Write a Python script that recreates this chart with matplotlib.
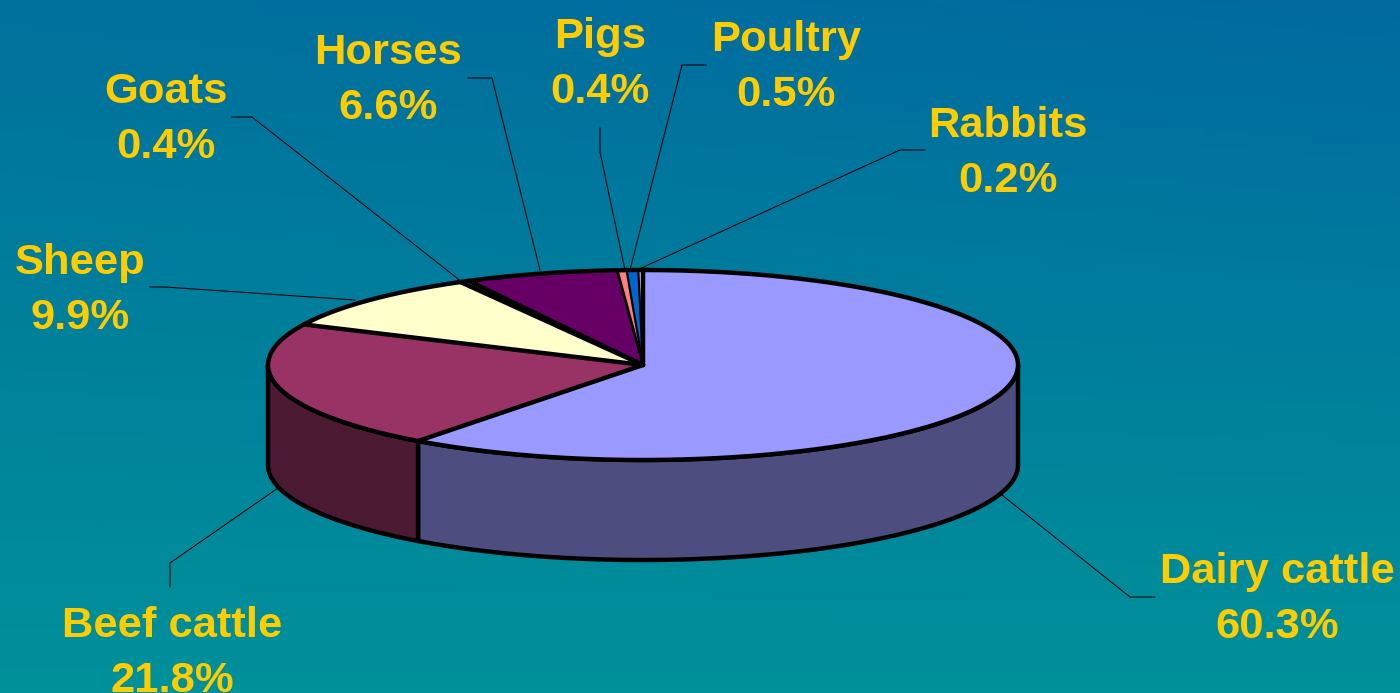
import numpy as np
import matplotlib
matplotlib.use('Agg')
import matplotlib.pyplot as plt
from matplotlib.patches import Polygon

labels = ["Dairy cattle", "Beef cattle", "Sheep", "Goats", "Horses", "Pigs", "Poultry", "Rabbits"]
values = [60.3, 21.8, 9.9, 0.4, 6.6, 0.4, 0.5, 0.2]

top_colors = ["#9999ff", "#993366", "#ffffcc", "#ccffff", "#660066", "#ff8080", "#0066cc", "#ccccff"]
side_colors = ["#4d4d80", "#4d1a33", "#808066", "#668080", "#330033", "#804040", "#003366", "#666680"]

# where the text sits (centre x, centre y of first line) and the leader line
label_pos = [(1277, 572), (172, 626), (80, 263), (166, 92), (388, 53), (600, 37), (786, 40), (1008, 126)]
leaders = [
    [(1002, 495), (1130, 597), (1155, 597)],
    [(278, 488), (170, 563), (170, 587)],
    [(355, 300), (165, 287), (150, 287)],
    [(462, 282), (252, 117), (232, 117)],
    [(540, 270), (492, 78), (468, 78)],
    [(625, 270), (600, 152), (600, 128)],
    [(630, 270), (682, 65), (706, 65)],
    [(637, 270), (900, 150), (925, 150)],
]
# the radial line that ends each slice, thin ones on the small slices so the colour shows
radial_lw = [3.2, 3.2, 3.2, 3.2, 2.0, 1.6, 1.6, 3.2]

cx, cy, rx, ry, depth = 643, 365, 375, 95, 100
gold = "#ffcc00"
lw = 3.2

fig = plt.figure(figsize=(14, 6.93), dpi=100)
ax = fig.add_axes([0, 0, 1, 1])
ax.set_xlim(0, 1400)
ax.set_ylim(693, 0)
ax.axis('off')

# background gradient, a little bluer in the top right corner
top_left = np.array([0, 113, 157]) / 255
top_right = np.array([0, 106, 160]) / 255
bottom = np.array([0, 145, 154]) / 255
ys, xs = np.mgrid[0:1:200j, 0:1:200j]
bg = np.zeros((200, 200, 3))
for c in range(3):
    bg[:, :, c] = (1 - ys) * (top_left[c] * (1 - xs) + top_right[c] * xs) + ys * bottom[c]
ax.imshow(bg, extent=(0, 1400, 693, 0), aspect='auto', zorder=0)


def ell(t, dy=0):
    t = np.radians(t)
    return np.column_stack([cx + rx * np.sin(t), cy - ry * np.cos(t) + dy])


total = sum(values)
edges = np.concatenate([[0], np.cumsum(values)]) / total * 360

# sides first, only the front half can be seen
for i in range(len(values)):
    a, b = max(edges[i], 90), min(edges[i + 1], 270)
    if b <= a:
        continue
    t = np.linspace(a, b, 200)
    pts = np.vstack([ell(t), ell(t[::-1], depth)])
    ax.add_patch(Polygon(pts, closed=True, fc=side_colors[i], ec='black', lw=lw, joinstyle='round', zorder=2))

# top face: fills, then radial lines, then the rim over them
for i in range(len(values)):
    t = np.linspace(edges[i], edges[i + 1], 200)
    pts = np.vstack([[cx, cy], ell(t)])
    ax.add_patch(Polygon(pts, closed=True, fc=top_colors[i], ec='none', zorder=3))
for i in range(len(values)):
    p = ell(edges[i + 1])[0]
    ax.plot([cx, p[0]], [cy, p[1]], color='black', lw=radial_lw[i], solid_capstyle='round', zorder=4)
rim = ell(np.linspace(0, 360, 720))
ax.plot(rim[:, 0], rim[:, 1], color='black', lw=lw, zorder=5)

# labels and leaders
for i in range(len(values)):
    line = np.array(leaders[i])
    ax.plot(line[:, 0], line[:, 1], color='black', lw=0.75, zorder=1)
    x, y = label_pos[i]
    ax.text(x, y, labels[i], color=gold, fontsize=31.3, fontweight='bold', family='Liberation Sans',
            ha='center', va='center', zorder=6)
    ax.text(x, y + 55, "%.1f%%" % values[i], color=gold, fontsize=31.3, fontweight='bold', family='Liberation Sans',
            ha='center', va='center', zorder=6)

fig.savefig('out.png', dpi=100)
